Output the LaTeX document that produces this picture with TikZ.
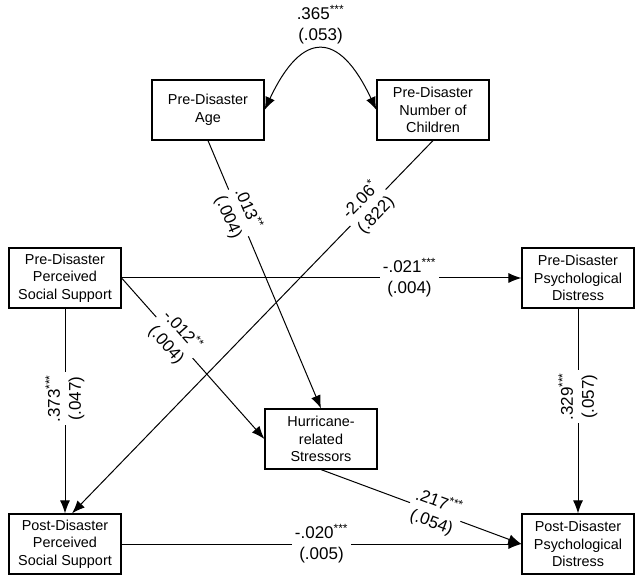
\documentclass[tikz,border=0pt]{standalone}
\usepackage{fontspec}
\setmainfont{Liberation Sans}
\usetikzlibrary{arrows.meta}

\begin{document}
\begin{tikzpicture}[x=1pt, y=-1pt, line width=1pt,
    var/.style={draw, line width=1.2pt, minimum width=112pt, minimum height=60pt,
        align=center, inner sep=2pt, font=\fontsize{14.4}{17.5}\selectfont},
    coef/.style={fill=white, align=center, inner sep=3pt,
        font=\fontsize{17}{21}\selectfont},
    >={Latex[length=13pt,width=10pt]}]
    \useasboundingbox (0,0) rectangle (635,577);
    % variables
    \node[var] (age)  at (208,110) {Pre-Disaster\\Age};
    \node[var] (kids) at (433,110) {Pre-Disaster\\Number of\\Children};
    \node[var] (prePSS) at (65,278) {Pre-Disaster\\Perceived\\Social Support};
    \node[var] (prePD)  at (578,278) {Pre-Disaster\\Psychological\\Distress};
    \node[var] (hur)    at (321,439) {Hurricane-\\related\\Stressors};
    \node[var] (postPSS) at (65,544) {Post-Disaster\\Perceived\\Social Support};
    \node[var] (postPD)  at (578,544) {Post-Disaster\\Psychological\\Distress};
    % covariance between age and children
    \draw[<->] (age.east) .. controls (302,30) and (339,30) .. (kids.west)
        node[coef, midway, above=2pt, fill=none] (c1) {.365\textsuperscript{***}\\(.053)};
    % paths
    \draw[->] (age.south) -- (hur.north)
        node[coef, pos=0.27, sloped] (c2) {.013\textsuperscript{**}\\(.004)};
    \draw[->] (kids.south) -- ([xshift=7pt]postPSS.north)
        node[coef, pos=0.18, sloped] (c3) {-2.06\textsuperscript{*}\\(.822)};
    \draw[->] (prePSS.east) -- (prePD.west)
        node[coef, pos=0.72] (c4) {-.021\textsuperscript{***}\\(.004)};
    \draw[->] (prePSS.east) -- (hur.west)
        node[coef, pos=0.37, sloped] (c5) {-.012\textsuperscript{**}\\(.004)};
    \draw[->] (prePSS.south) -- (postPSS.north)
        node[coef, pos=0.44, rotate=90] (c6) {.373\textsuperscript{***}\\(.047)};
    \draw[->] (prePD.south) -- (postPD.north)
        node[coef, pos=0.43, rotate=90] (c7) {.329\textsuperscript{***}\\(.057)};
    \draw[->] (hur.south) -- (postPD.west)
        node[coef, pos=0.57, sloped] (c8) {.217\textsuperscript{***}\\(.054)};
    \draw[->] (postPSS.east) -- (postPD.west)
        node[coef, pos=0.5] (c9) {-.020\textsuperscript{***}\\(.005)};
\end{tikzpicture}
\end{document}
